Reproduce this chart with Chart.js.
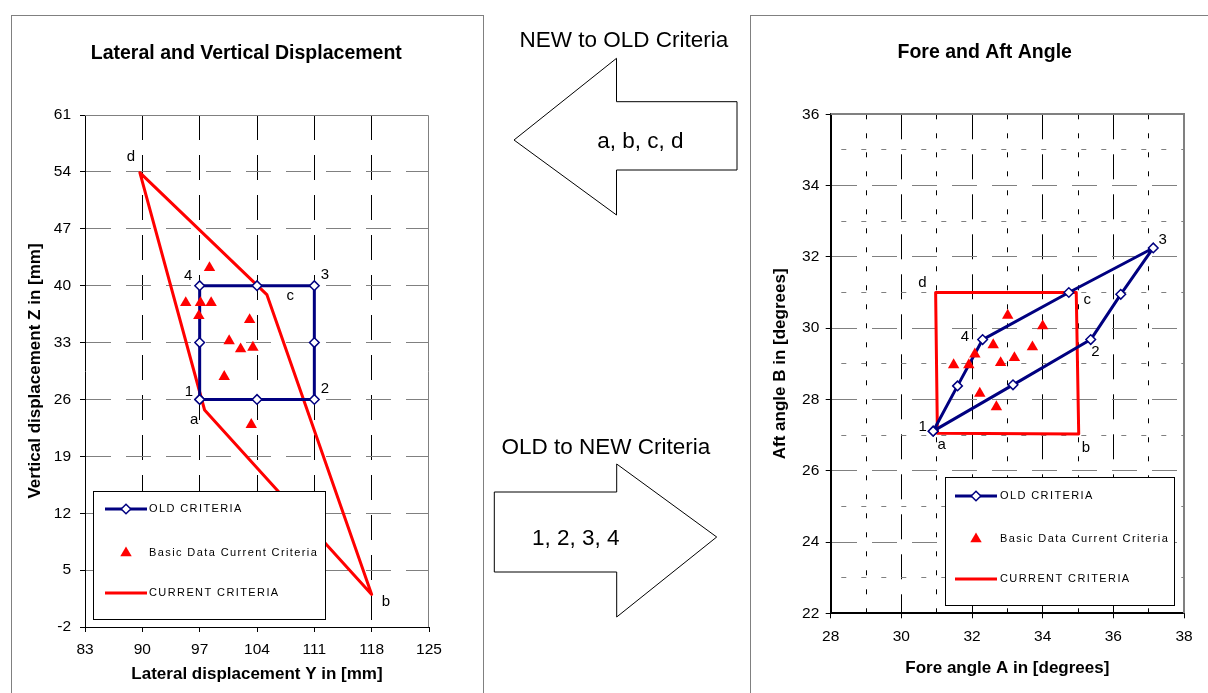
<!DOCTYPE html>
<html>
<head>
<meta charset="utf-8">
<title>Lateral / vertical displacement and fore / aft angle criteria</title>
<script src="https://cdn.jsdelivr.net/npm/chart.js@4.4.1/dist/chart.umd.min.js"></script>
<style>
  html, body { margin: 0; padding: 0; width: 1208px; height: 693px; overflow: hidden; background: #fff; }
  .panel { position: absolute; border: 1px solid #808080; box-sizing: border-box; background: #fff; }
  #lvPanel { left: 11px; top: 15px; width: 473px; height: 720px; }
  #faPanel { left: 750px; top: 15px; width: 480px; height: 720px; }
  canvas { position: absolute; }
  #lvChart { left: 12px; top: 16px; }
  #faChart { left: 751px; top: 16px; }
  #arrows { position: absolute; left: 0; top: 0; }
  #arrows text { font-family: "Liberation Sans", Arial, Helvetica, sans-serif; font-size: 22.5px; fill: #000; }
</style>
</head>
<body>
<div class="panel" id="lvPanel"></div>
<div class="panel" id="faPanel"></div>
<canvas id="lvChart" width="470" height="677"></canvas>
<canvas id="faChart" width="468" height="677"></canvas>

<svg id="arrows" width="1208" height="693" viewBox="0 0 1208 693">
  <polygon points="514,140 616.5,58.3 616.5,101.7 737,101.7 737,170 616.5,170 616.5,215"
           fill="#fff" stroke="#000" stroke-width="1"/>
  <text x="624" y="46.7" text-anchor="middle">NEW to OLD Criteria</text>
  <text x="640.3" y="147.7" text-anchor="middle">a, b, c, d</text>

  <polygon points="494.3,492 616.7,492 616.7,464 716.7,537 616.7,617 616.7,572 494.3,572"
           fill="#fff" stroke="#000" stroke-width="1"/>
  <text x="605.8" y="454" text-anchor="middle">OLD to NEW Criteria</text>
  <text x="575.8" y="545" text-anchor="middle">1, 2, 3, 4</text>
</svg>

<script>
// ---------- Lateral and vertical displacement (mm) ----------
const lvYTicks = [83, 90, 97, 104, 111, 118, 125];
const lvZTicks = [-2, 5, 12, 19, 26, 33, 40, 47, 54, 61];

// old criteria: corners 1-4 with the side mid-points, closed
const lvOldY = [97, 104, 111, 111, 111, 104, 97, 97, 97];
const lvOldZ = [26, 26, 26, 33, 40, 40, 40, 33, 26];
const lvOldTags = ['1', '', '2', '', '3', '', '4', '', ''];

// current criteria: d -> a -> b -> c -> d
const lvCurY = [89.7, 97.6, 118, 105.2, 89.7];
const lvCurZ = [53.9, 24.7, 2.0, 38.9, 53.9];
const lvCurTags = ['d', 'a', 'b', 'c', ''];

// basic data, current criteria
const lvBasicY = [98.2, 95.3, 97.1, 98.4, 96.9, 103.1, 100.6, 102.0, 103.5, 100.0, 103.3];
const lvBasicZ = [42.2, 37.9, 37.9, 37.9, 36.3, 35.8, 33.2, 32.2, 32.4, 28.8, 22.9];

// ---------- Fore and aft angle (degrees) ----------
const faATicks = [28, 30, 32, 34, 36, 38];
const faBTicks = [22, 24, 26, 28, 30, 32, 34, 36];

const faOldA = [30.9, 33.16, 35.36, 36.21, 37.13, 34.74, 32.3, 31.59, 30.9];
const faOldB = [27.11, 28.41, 29.68, 30.95, 32.25, 31.0, 29.68, 28.38, 27.11];
const faOldTags = ['1', '', '2', '', '3', '', '4', '', ''];

const faCurA = [31.02, 35.02, 34.95, 30.97, 31.02];
const faCurB = [27.05, 27.03, 31.0, 31.0, 27.05];
const faCurTags = ['a', 'b', 'c', 'd', ''];

const faBasicA = [31.48, 31.91, 32.08, 32.6, 33.01, 34.0, 32.81, 33.2, 33.71, 32.22, 32.69];
const faBasicB = [28.97, 28.97, 29.27, 29.53, 30.36, 30.06, 29.03, 29.17, 29.47, 28.17, 27.79];

const seriesNames = ['OLD CRITERIA', 'Basic Data Current Criteria', 'CURRENT CRITERIA'];

// ---------- helpers ----------
const FONT = '"Liberation Sans", Arial, Helvetica, sans-serif';
Chart.defaults.font.family = FONT;
Chart.defaults.color = '#000';

const pts = (xs, ys) => xs.map((x, i) => ({ x, y: ys[i] }));
const CLEAR = 'rgba(0,0,0,0)';

// grid colour that hides the lines lying on the plot edges
function edgeGrid(ticks, color) {
  const lo = ticks[0], hi = ticks[ticks.length - 1];
  return c => (c.tick && (Math.abs(c.tick.value - lo) < 1e-9 || Math.abs(c.tick.value - hi) < 1e-9)) ? CLEAR : color;
}
// grid colour for the in-between (minor) lines only
function minorGrid(ticks, color) {
  const lo = ticks[0], step = ticks[1] - ticks[0];
  return c => {
    if (!c.tick) return CLEAR;
    const r = Math.abs(((c.tick.value - lo) % step + step) % step);
    return (r < 1e-9 || Math.abs(r - step) < 1e-9) ? CLEAR : color;
  };
}

// gray top / right edge of the plotting area
const plotFrame = {
  id: 'plotFrame',
  beforeDatasetsDraw(chart, args, o) {
    const { ctx, chartArea: a } = chart;
    const h = (o.width % 2) ? 0.5 : 0;
    const top = Math.round(a.top) + h, right = Math.round(a.right) - h;
    ctx.save();
    ctx.strokeStyle = o.color;
    ctx.lineWidth = o.width;
    ctx.beginPath();
    ctx.moveTo(a.left, top);
    ctx.lineTo(right, top);
    ctx.lineTo(right, a.bottom);
    ctx.stroke();
    ctx.restore();
  }
};

// corner letters / numbers next to the criteria points
const cornerTags = {
  id: 'cornerTags',
  afterDatasetsDraw(chart, args, o) {
    const { ctx } = chart;
    const xs = chart.scales.x, ys = chart.scales.y;
    ctx.save();
    ctx.font = o.size + 'px ' + FONT;
    ctx.fillStyle = '#000';
    ctx.textAlign = 'center';
    ctx.textBaseline = 'middle';
    chart.data.datasets.forEach(ds => {
      if (!ds.tags) return;
      ds.tags.forEach((t, i) => {
        if (!t) return;
        const off = o.offsets[t] || [0, 0];
        const p = ds.data[i];
        ctx.fillText(t, xs.getPixelForValue(p.x) + off[0], ys.getPixelForValue(p.y) + off[1]);
      });
    });
    ctx.restore();
  }
};

// boxed key inside the plotting area
const insetLegend = {
  id: 'insetLegend',
  afterDraw(chart, args, o) {
    const { ctx, chartArea: a } = chart;
    const bx = Math.round(a.left + o.left), by = Math.round(a.top + o.top);
    ctx.save();
    ctx.fillStyle = '#fff';
    ctx.fillRect(bx, by, o.width, o.height);
    ctx.strokeStyle = '#000';
    ctx.lineWidth = 1;
    ctx.strokeRect(bx + 0.5, by + 0.5, o.width, o.height);
    chart.data.datasets.forEach((ds, i) => {
      const yy = by + o.rows[i];
      const x0 = bx + o.lineStart, x1 = bx + o.lineEnd;
      if (ds.showLine) {
        ctx.strokeStyle = ds.borderColor;
        ctx.lineWidth = ds.borderWidth;
        ctx.beginPath();
        ctx.moveTo(x0, yy);
        ctx.lineTo(x1, yy);
        ctx.stroke();
      }
      if (ds.pointRadius > 0) {
        ctx.fillStyle = ds.pointBackgroundColor;
        ctx.strokeStyle = ds.pointBorderColor;
        ctx.lineWidth = ds.pointBorderWidth;
        Chart.helpers.drawPoint(ctx, {
          pointStyle: ds.pointStyle, radius: ds.pointRadius, rotation: 0, borderWidth: ds.pointBorderWidth
        }, (x0 + x1) / 2, yy);
      }
      ctx.fillStyle = '#000';
      ctx.font = o.size + 'px ' + FONT;
      if ('letterSpacing' in ctx) ctx.letterSpacing = o.spacing + 'px';
      ctx.textAlign = 'left';
      ctx.textBaseline = 'middle';
      ctx.fillText(ds.label, bx + o.textX, yy);
      if ('letterSpacing' in ctx) ctx.letterSpacing = '0px';
    });
    ctx.restore();
  }
};

function datasets(old, oldTags, basic, cur, curTags) {
  return [
    {
      label: seriesNames[0], data: old, tags: oldTags, showLine: true,
      borderColor: '#000080', borderWidth: 3, borderJoinStyle: 'round', borderCapStyle: 'round',
      pointStyle: 'rectRot', pointRadius: 4.8, pointBackgroundColor: '#ffffff',
      pointBorderColor: '#000080', pointBorderWidth: 1.5, order: 1
    },
    {
      label: seriesNames[1], data: basic, showLine: false,
      pointStyle: 'triangle', pointRadius: 6.6, pointBackgroundColor: '#ff0000',
      pointBorderColor: '#ff0000', pointBorderWidth: 0, order: 0
    },
    {
      label: seriesNames[2], data: cur, tags: curTags, showLine: true,
      borderColor: '#ff0000', borderWidth: 3, borderJoinStyle: 'round', borderCapStyle: 'round',
      pointRadius: 0, order: 2
    }
  ];
}

function scalesFor(p) {
  const xs = p.xTicks, ys = p.yTicks;
  const scales = {
    x: {
      type: 'linear', position: 'bottom',
      min: xs[0], max: xs[xs.length - 1],
      afterFit: s => { s.height = p.xAxisHeight; },
      ticks: { stepSize: xs[1] - xs[0], padding: p.xTickPad, font: { size: 15.5 }, color: '#000', autoSkip: false, maxRotation: 0 },
      grid: { color: edgeGrid(xs, '#000'), lineWidth: 1, tickLength: 5, tickColor: '#000', tickWidth: 1 },
      border: { display: true, color: '#000', width: p.axisWidth, dash: [25, 15] },
      title: { display: true, text: p.xTitle, color: '#000', font: { size: 17, weight: 'bold' }, padding: { top: 0, bottom: p.xTitlePad } }
    },
    y: {
      type: 'linear', position: 'left',
      min: ys[0], max: ys[ys.length - 1],
      afterFit: s => { s.width = p.yAxisWidth; },
      ticks: { stepSize: ys[1] - ys[0], padding: p.yTickPad, font: { size: 15.5 }, color: '#000', autoSkip: false },
      grid: { color: edgeGrid(ys, '#808080'), lineWidth: 1, tickLength: 5, tickColor: '#000', tickWidth: 1 },
      border: { display: true, color: '#000', width: p.axisWidth, dash: [25, 15] },
      title: { display: true, text: p.yTitle, color: '#000', font: { size: 17, weight: 'bold' }, padding: { top: p.yTitlePad, bottom: 0 } }
    },
    pad: {
      type: 'linear', position: 'right', min: 0, max: 1, display: true,
      afterFit: s => { s.width = p.rightGap; },
      ticks: { display: false }, grid: { display: false, drawTicks: false }, border: { display: false }
    }
  };
  if (p.minor) {
    const mx = (xs[1] - xs[0]) / 2, my = (ys[1] - ys[0]) / 2;
    scales.xMinor = {
      type: 'linear', position: 'bottom', min: xs[0], max: xs[xs.length - 1],
      afterFit: s => { s.height = 0; },
      ticks: { display: false, stepSize: mx, autoSkip: false },
      grid: { color: minorGrid(xs, '#000'), lineWidth: 1, drawTicks: false },
      border: { display: false, dash: [5, 14], dashOffset: 0 }
    };
    scales.yMinor = {
      type: 'linear', position: 'left', min: ys[0], max: ys[ys.length - 1],
      afterFit: s => { s.width = 0; },
      ticks: { display: false, stepSize: my, autoSkip: false },
      grid: { color: minorGrid(ys, '#808080'), lineWidth: 1, drawTicks: false },
      border: { display: false, dash: [5, 15], dashOffset: 9.7 }
    };
  }
  return scales;
}

function panel(canvasId, p) {
  return new Chart(document.getElementById(canvasId), {
    type: 'scatter',
    data: { datasets: p.datasets },
    options: {
      responsive: false,
      animation: false,
      events: [],
      layout: { padding: { top: 0, left: 0, bottom: 0, right: p.padRight } },
      elements: { line: { tension: 0 } },
      scales: scalesFor(p),
      plugins: {
        legend: { display: false },
        tooltip: { enabled: false },
        title: {
          display: true, text: p.title, color: '#000',
          font: { size: 19.5, weight: 'bold', lineHeight: 1.2 },
          padding: { top: p.titleTop, bottom: p.titleBottom }
        },
        plotFrame: { color: '#808080', width: p.frameWidth },
        cornerTags: { size: 15, offsets: p.tagOffsets },
        insetLegend: p.legend
      }
    },
    plugins: [plotFrame, cornerTags, insetLegend]
  });
}

// ---------- left panel ----------
panel('lvChart', {
  title: 'Lateral and Vertical Displacement',
  xTitle: 'Lateral displacement Y in [mm]',
  yTitle: 'Vertical displacement Z in [mm]',
  xTicks: lvYTicks, yTicks: lvZTicks,
  datasets: datasets(pts(lvOldY, lvOldZ), lvOldTags, pts(lvBasicY, lvBasicZ), pts(lvCurY, lvCurZ), lvCurTags),
  xAxisHeight: 66, yAxisWidth: 73, rightGap: 51.6, padRight: 1.4,
  titleTop: 25.6, titleBottom: 50,
  xTickPad: 8.5, yTickPad: 9, xTitlePad: 8.3, yTitlePad: 12.8,
  axisWidth: 1, frameWidth: 1, minor: false,
  tagOffsets: {
    '1': [-10.7, -7.6], '2': [10.6, -11], '3': [10.6, -11.3], '4': [-11.4, -9.6],
    'a': [-10.3, 9.9], 'b': [14.3, 7.6], 'c': [23.5, 0.9], 'd': [-8.9, -15.4]
  },
  legend: {
    left: 8, top: 376, width: 232, height: 128, rows: [18, 62, 102],
    lineStart: 12, lineEnd: 54, textX: 56, size: 11, spacing: 1.4
  }
});

// ---------- right panel ----------
panel('faChart', {
  title: 'Fore and Aft Angle',
  xTitle: 'Fore angle A in [degrees]',
  yTitle: 'Aft angle B in [degrees]',
  xTicks: faATicks, yTicks: faBTicks,
  datasets: datasets(pts(faOldA, faOldB), faOldTags, pts(faBasicA, faBasicB), pts(faCurA, faCurB), faCurTags),
  xAxisHeight: 79.7, yAxisWidth: 79.7, rightGap: 34.4, padRight: 0.6,
  titleTop: 24.8, titleBottom: 50.1,
  xTickPad: 9.4, yTickPad: 6.4, xTitlePad: 14.8, yTitlePad: 18.8,
  axisWidth: 2, frameWidth: 2, minor: true,
  tagOffsets: {
    '1': [-10.5, -4.2], '2': [4.6, 11.9], '3': [9.5, -7.9], '4': [-17.6, -2.8],
    'a': [4.3, 11.4], 'b': [7.3, 14.3], 'c': [11.1, 7.2], 'd': [-13.3, -9.2]
  },
  legend: {
    left: 114, top: 363, width: 229, height: 128, rows: [19, 62, 102],
    lineStart: 10, lineEnd: 52, textX: 55, size: 11, spacing: 1.4
  }
});
</script>
</body>
</html>
